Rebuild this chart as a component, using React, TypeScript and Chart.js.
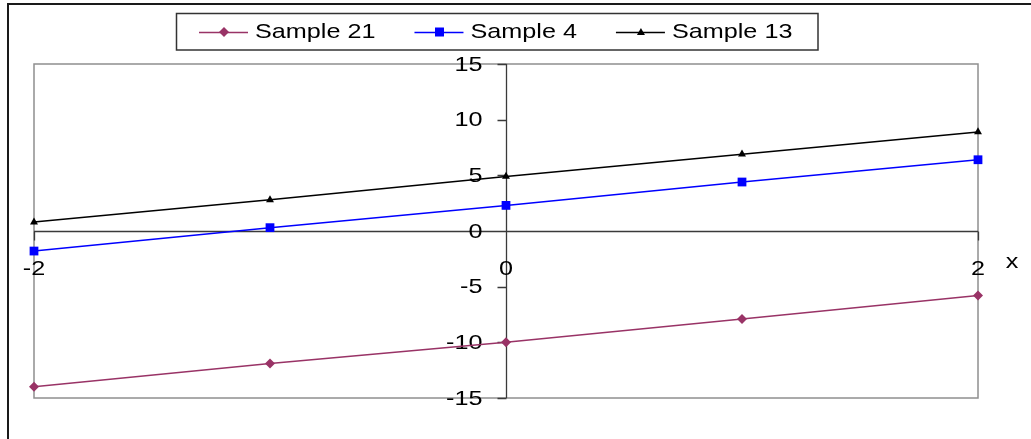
import React, { useEffect, useRef } from "react";
import { Chart, registerables } from "chart.js";

Chart.register(...registerables);

// Series values at each x position
const xValues = [-2, -1, 0, 1, 2];
const sample21 = [-14.0, -11.9, -10.0, -7.9, -5.8];
const sample4 = [-1.8, 0.3, 2.3, 4.4, 6.4];
const sample13 = [0.8, 2.8, 4.9, 6.9, 8.9];

// Axis ticks and labels
const yTickValues = [15, 10, 5, 0, -5, -10, -15];
const xTickValues = [-2, 0, 2];
const xAxisTitle = "x";

const seriesNames = ["Sample 21", "Sample 4", "Sample 13"];
const seriesColors = ["#993366", "#0000FF", "#000000"];
const seriesMarkers = ["rectRot", "rect", "triangle"];
const seriesRadius = [5, 6.2, 4.6];

const FONT = "21px 'Liberation Sans', Arial, sans-serif";
const STRETCH = 1.2;

function stretchedText(
  ctx: CanvasRenderingContext2D,
  text: string,
  x: number,
  y: number,
  align: CanvasTextAlign
) {
  ctx.save();
  ctx.translate(x, y);
  ctx.scale(STRETCH, 1);
  ctx.font = FONT;
  ctx.fillStyle = "#000";
  ctx.textAlign = align;
  ctx.textBaseline = "middle";
  ctx.fillText(text, 0, 0);
  ctx.restore();
}

function legendMarker(
  ctx: CanvasRenderingContext2D,
  style: string,
  x: number,
  y: number,
  color: string
) {
  ctx.save();
  ctx.fillStyle = color;
  ctx.beginPath();
  if (style === "rectRot") {
    const r = 5;
    ctx.moveTo(x, y - r);
    ctx.lineTo(x + r, y);
    ctx.lineTo(x, y + r);
    ctx.lineTo(x - r, y);
  } else if (style === "rect") {
    ctx.rect(x - 4.5, y - 4.5, 9, 9);
  } else {
    ctx.moveTo(x, y - 4);
    ctx.lineTo(x + 4, y + 3);
    ctx.lineTo(x - 4, y + 3);
  }
  ctx.closePath();
  ctx.fill();
  ctx.restore();
}

const decorPlugin = {
  id: "excelDecor",
  beforeDatasetsDraw(chart: any) {
    const ctx: CanvasRenderingContext2D = chart.ctx;
    const { left, right, top, bottom } = chart.chartArea;
    const xs = chart.scales.x;
    const ys = chart.scales.y;

    ctx.save();
    // outer frame
    ctx.strokeStyle = "#1a1a1a";
    ctx.lineWidth = 2;
    ctx.beginPath();
    ctx.moveTo(8, chart.height);
    ctx.lineTo(8, 4);
    ctx.lineTo(chart.width, 4);
    ctx.stroke();

    // plot area border
    ctx.strokeStyle = "#8f8f8f";
    ctx.lineWidth = 1.5;
    ctx.strokeRect(left, top, right - left, bottom - top);

    // axes crossing at zero
    const x0 = Math.round(xs.getPixelForValue(0)) + 0.5;
    const y0 = Math.round(ys.getPixelForValue(0)) + 0.5;
    ctx.strokeStyle = "#3a3a3a";
    ctx.lineWidth = 1.3;
    ctx.beginPath();
    ctx.moveTo(left, y0);
    ctx.lineTo(right, y0);
    ctx.moveTo(x0, top);
    ctx.lineTo(x0, bottom);
    // tick marks
    yTickValues.forEach((v) => {
      const py = Math.round(ys.getPixelForValue(v)) + 0.5;
      ctx.moveTo(x0 - 9, py);
      ctx.lineTo(x0, py);
    });
    xTickValues.forEach((v) => {
      const px = Math.round(xs.getPixelForValue(v)) + 0.5;
      ctx.moveTo(px, y0);
      ctx.lineTo(px, y0 + 9);
    });
    ctx.stroke();
    ctx.restore();

    // tick labels
    yTickValues.forEach((v) => {
      stretchedText(ctx, String(v), x0 - 24, ys.getPixelForValue(v) + 1, "right");
    });
    xTickValues.forEach((v) => {
      stretchedText(ctx, String(v), xs.getPixelForValue(v), y0 + 38, "center");
    });
    stretchedText(ctx, xAxisTitle, right + 34, y0 + 31, "center");
  },
  afterDraw(chart: any) {
    const ctx: CanvasRenderingContext2D = chart.ctx;
    // legend box
    const boxL = 176.5;
    const boxT = 13.5;
    const boxR = 818;
    const boxB = 50;
    ctx.save();
    ctx.fillStyle = "#fff";
    ctx.fillRect(boxL, boxT, boxR - boxL, boxB - boxT);
    ctx.strokeStyle = "#333";
    ctx.lineWidth = 1.5;
    ctx.strokeRect(boxL, boxT, boxR - boxL, boxB - boxT);
    ctx.font = FONT;
    const cy = 32;
    let cx = 199;
    chart.data.datasets.forEach((ds: any, i: number) => {
      ctx.strokeStyle = seriesColors[i];
      ctx.lineWidth = 1.5;
      ctx.beginPath();
      ctx.moveTo(cx, cy + 0.5);
      ctx.lineTo(cx + 49, cy + 0.5);
      ctx.stroke();
      legendMarker(ctx, seriesMarkers[i], cx + 25, cy, seriesColors[i]);
      stretchedText(ctx, ds.label, cx + 56, cy, "left");
      const w = ctx.measureText(ds.label).width * STRETCH;
      cx = cx + 56 + w + 39;
    });
    ctx.restore();
  },
};

export default function App() {
  const canvasRef = useRef<HTMLCanvasElement | null>(null);

  useEffect(() => {
    const canvas = canvasRef.current;
    if (!canvas) return;
    const seriesValues = [sample21, sample4, sample13];
    const chart = new Chart(canvas, {
      type: "scatter",
      data: {
        datasets: seriesValues.map((vals, i) => ({
          label: seriesNames[i],
          data: xValues.map((x, j) => ({ x, y: vals[j] })),
          showLine: true,
          borderColor: seriesColors[i],
          backgroundColor: seriesColors[i],
          borderWidth: 1.5,
          pointStyle: seriesMarkers[i] as any,
          pointRadius: seriesRadius[i],
          pointBorderWidth: 0,
          pointBackgroundColor: seriesColors[i],
          clip: false as any,
        })),
      },
      options: {
        responsive: false,
        animation: false,
        devicePixelRatio: 1,
        layout: { padding: { left: 34, right: 53, top: 64, bottom: 41 } },
        scales: {
          x: { type: "linear", min: -2, max: 2, display: false },
          y: { type: "linear", min: -15, max: 15, display: false },
        },
        plugins: {
          legend: { display: false },
          tooltip: { enabled: false },
        },
      },
      plugins: [decorPlugin],
    });
    return () => chart.destroy();
  }, []);

  return (
    <div style={{ position: "absolute", left: 0, top: 0, width: 1031, height: 439, background: "#fff" }}>
      <canvas ref={canvasRef} width={1031} height={439} style={{ display: "block" }} />
    </div>
  );
}
